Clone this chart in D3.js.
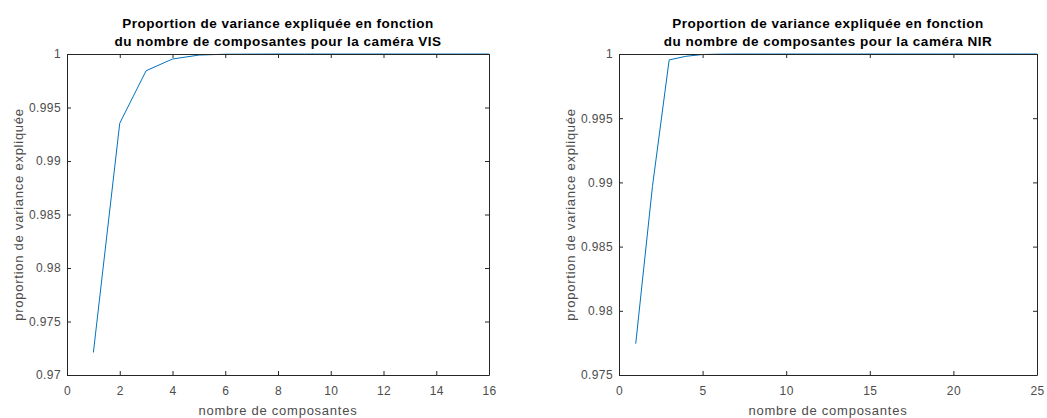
<!DOCTYPE html>
<html><head><meta charset="utf-8">
<script src="https://cdn.jsdelivr.net/npm/d3@7"></script>
<style>body{margin:0;background:#fff}svg{display:block}text{font-family:"Liberation Sans",Arial,sans-serif}</style>
</head><body>
<svg id="c" width="1047" height="418"></svg>
<script>
const visX = [1,2,3,4,5,6,7,8,9,10,11,12,13,14,15,16];
const visY = [0.9721,0.99353,0.99844,0.99953,0.99990,0.99998,0.99999,1,1,1,1,1,1,1,1,1];
const nirX = [1,2,3,4,5,6,7,8,9,10,11,12,13,14,15,16,17,18,19,20,21,22,23,24,25];
const nirY = [0.97744,0.98968,0.99954,0.99982,0.99996,0.99999,1,1,1,1,1,1,1,1,1,1,1,1,1,1,1,1,1,1,1];
const visXTicks = [0,2,4,6,8,10,12,14,16];
const visYTicks = [0.97,0.975,0.98,0.985,0.99,0.995,1];
const nirXTicks = [0,5,10,15,20,25];
const nirYTicks = [0.975,0.98,0.985,0.99,0.995,1];
const titlesVIS = ["Proportion de variance expliquée en fonction","du nombre de composantes pour la caméra VIS"];
const titlesNIR = ["Proportion de variance expliquée en fonction","du nombre de composantes pour la caméra NIR"];
const xLabel = "nombre de composantes";
const yLabel = "proportion de variance expliquée";

const svg = d3.select("#c");
function panel(o){
  const g = svg.append("g");
  const x = d3.scaleLinear().domain(o.xd).range([o.l,o.r]);
  const y = d3.scaleLinear().domain(o.yd).range([o.b,o.t]);
  const fmt = d => String(+d.toFixed(4));
  const axc = "#262626", lab = "#4d4d4d";
  g.append("path").datum(o.xs.map((v,i)=>[v,o.ys[i]]))
    .attr("fill","none").attr("stroke","#0072BD").attr("stroke-width",1)
    .attr("d", d3.line().x(d=>x(d[0])).y(d=>y(d[1])));
  const tl = 4;
  const ax = [
    d3.axisBottom(x).tickValues(o.xt).tickSizeInner(-tl).tickSizeOuter(0).tickPadding(11).tickFormat(fmt),
    d3.axisTop(x).tickValues(o.xt).tickSizeInner(-tl).tickSizeOuter(0).tickFormat(""),
    d3.axisLeft(y).tickValues(o.yt).tickSizeInner(-tl).tickSizeOuter(0).tickPadding(6).tickFormat(fmt),
    d3.axisRight(y).tickValues(o.yt).tickSizeInner(-tl).tickSizeOuter(0).tickFormat("")
  ];
  const pos = [[0,o.b],[0,o.t],[o.l,0],[o.r,0]];
  ax.forEach((a,i)=>{
    const ag = g.append("g").attr("transform",`translate(${pos[i][0]},${pos[i][1]})`).call(a);
    ag.selectAll("path").attr("stroke",axc).attr("stroke-width",1);
    ag.selectAll("line").attr("stroke",axc);
    ag.selectAll("text").attr("fill",lab).style("font-size","12px").style("letter-spacing","0.4px")
      .style("font-family",'"Liberation Sans",Arial,sans-serif');
  });
  const cx = (o.l+o.r)/2;
  o.title.forEach((t,i)=>{
    g.append("text").attr("x",cx).attr("y",28+i*18).attr("text-anchor","middle")
      .attr("font-weight","bold").attr("font-size","13.5px").style("letter-spacing","0.5px")
      .attr("fill","#000").text(t);
  });
  g.append("text").attr("x",cx).attr("y",415).attr("text-anchor","middle")
    .attr("font-size","13px").style("letter-spacing","0.75px").attr("fill",lab).text(xLabel);
  g.append("text").attr("transform",`translate(${o.yl},${(o.t+o.b)/2}) rotate(-90)`)
    .attr("text-anchor","middle").attr("font-size","13px").style("letter-spacing","0.75px")
    .attr("fill",lab).text(yLabel);
}
panel({xs:visX,ys:visY,xd:[0,16],yd:[0.97,1],xt:visXTicks,yt:visYTicks,l:67,r:489,t:54,b:375,title:titlesVIS,yl:23});
panel({xs:nirX,ys:nirY,xd:[0,25],yd:[0.975,1],xt:nirXTicks,yt:nirYTicks,l:619,r:1037,t:54,b:375,title:titlesNIR,yl:575});
</script>
</body></html>
